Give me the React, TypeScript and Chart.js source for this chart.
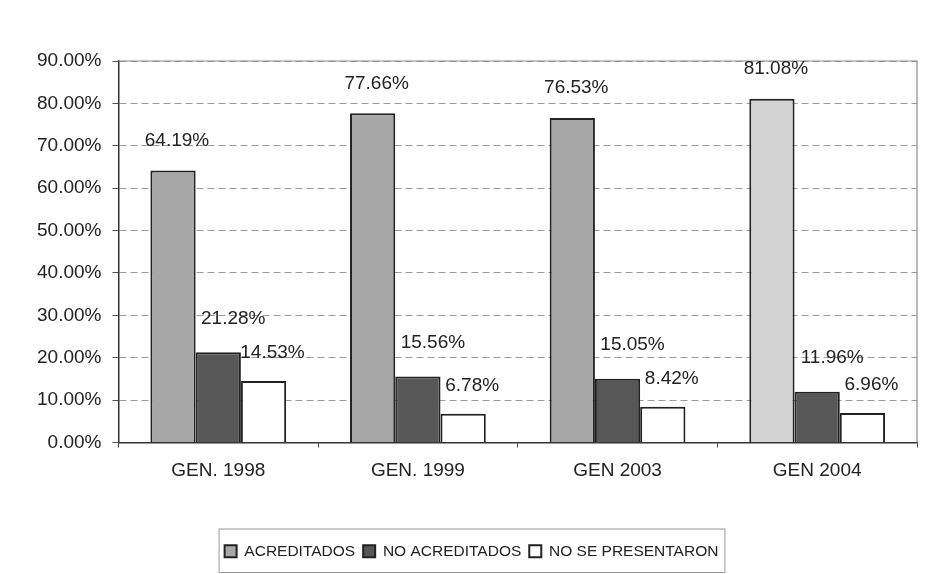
import React, { useEffect, useRef } from "react";
import { Chart, registerables } from "chart.js";

Chart.register(...registerables);

const categories = ["GEN. 1998", "GEN. 1999", "GEN 2003", "GEN 2004"];
const seriesNames = ["ACREDITADOS", "NO ACREDITADOS", "NO SE PRESENTARON"];
const acreditados = [64.19, 77.66, 76.53, 81.08];
const noAcreditados = [21.28, 15.56, 15.05, 11.96];
const noSePresentaron = [14.53, 6.78, 8.42, 6.96];
const yMin = 0;
const yMax = 90;
const yStep = 10;

const TEXT = "#222222";
const FONT = "'Liberation Sans', Arial, sans-serif";

// label offsets per series (pixels): [dx, dy above bar top]
const labelOffsets = [
  [4, 30],
  [15, 34],
  [9, 28],
];

const barLabelPlugin = {
  id: "barLabels",
  afterDatasetsDraw(chart: any) {
    const ctx = chart.ctx;
    ctx.save();
    ctx.font = `19px ${FONT}`;
    ctx.fillStyle = TEXT;
    ctx.textAlign = "center";
    ctx.textBaseline = "middle";
    chart.data.datasets.forEach((ds: any, di: number) => {
      const meta = chart.getDatasetMeta(di);
      meta.data.forEach((el: any, i: number) => {
        const v = ds.data[i];
        const [dx, dy] = labelOffsets[di];
        ctx.fillText(v.toFixed(2) + "%", el.x + dx, el.y - dy);
      });
    });
    ctx.restore();
  },
};

const framePlugin = {
  id: "frame",
  beforeDatasetsDraw(chart: any) {
    const { ctx, chartArea } = chart;
    ctx.save();
    ctx.strokeStyle = "#8a8a8a";
    ctx.lineWidth = 1.2;
    ctx.beginPath();
    ctx.moveTo(chartArea.left, chartArea.top);
    ctx.lineTo(chartArea.right, chartArea.top);
    ctx.lineTo(chartArea.right, chartArea.bottom);
    ctx.stroke();
    ctx.restore();
  },
  afterDraw(chart: any) {
    const lg = chart.legend;
    if (!lg || !lg.legendHitBoxes || !lg.legendHitBoxes.length) return;
    const hb = lg.legendHitBoxes;
    const first = hb[0];
    const last = hb[hb.length - 1];
    const ctx = chart.ctx;
    ctx.save();
    ctx.strokeStyle = "#9a9a9a";
    ctx.lineWidth = 1;
    const left = first.left - 6;
    const right = last.left + last.width + 6;
    const top = lg.top - 7;
    const bottom = lg.bottom + 3;
    ctx.strokeRect(left + 0.5, top + 0.5, right - left, bottom - top);
    ctx.restore();
  },
};

export default function App() {
  const ref = useRef<HTMLCanvasElement | null>(null);

  useEffect(() => {
    if (!ref.current) return;
    const chart = new Chart(ref.current, {
      type: "bar",
      data: {
        labels: categories,
        datasets: [
          {
            label: seriesNames[0],
            data: acreditados,
            backgroundColor: (c: any) =>
              c.dataIndex === 3 ? "#d3d3d3" : "#a7a7a7",
            borderColor: "#222222",
            borderWidth: 2,
          },
          {
            label: seriesNames[1],
            data: noAcreditados,
            backgroundColor: "#575757",
            borderColor: "#222222",
            borderWidth: 2,
          },
          {
            label: seriesNames[2],
            data: noSePresentaron,
            backgroundColor: "#ffffff",
            borderColor: "#222222",
            borderWidth: 2,
          },
        ],
      },
      options: {
        responsive: false,
        animation: false,
        categoryPercentage: 0.68,
        barPercentage: 1.0,
        layout: { padding: { left: 26, right: 11, top: 61, bottom: 5 } },
        plugins: {
          legend: {
            position: "bottom",
            labels: {
              font: { family: FONT, size: 15.5 },
              color: TEXT,
              boxWidth: 12,
              boxHeight: 12,
              padding: 8,
            },
          },
          tooltip: { enabled: false },
          title: { display: false },
        },
        scales: {
          x: {
            grid: {
              display: true,
              drawOnChartArea: false,
              drawTicks: true,
              tickLength: 5,
              tickColor: "#444",
            },
            border: { display: true, color: "#333", width: 1.5 },
            ticks: {
              font: { family: FONT, size: 19 },
              color: TEXT,
              padding: 12,
            },
            afterFit: (scale: any) => {
              scale.height = 93;
            },
          },
          y: {
            min: yMin,
            max: yMax,
            ticks: {
              stepSize: yStep,
              font: { family: FONT, size: 19 },
              color: TEXT,
              padding: 11,
              callback: (v: any) => Number(v).toFixed(2) + "%",
            },
            grid: {
              color: "#9a9a9a",
              lineWidth: 1,
              tickLength: 6,
              tickColor: "#555",
            },
            border: { display: true, color: "#333", width: 1.5, dash: [7, 4] },
          },
        },
      },
      plugins: [framePlugin, barLabelPlugin],
    } as any);
    return () => chart.destroy();
  }, []);

  return (
    <div
      style={{
        position: "fixed",
        left: 0,
        top: 0,
        width: 928,
        height: 574,
        background: "#ffffff",
      }}
    >
      <canvas ref={ref} width={928} height={574} style={{ display: "block" }} />
    </div>
  );
}
